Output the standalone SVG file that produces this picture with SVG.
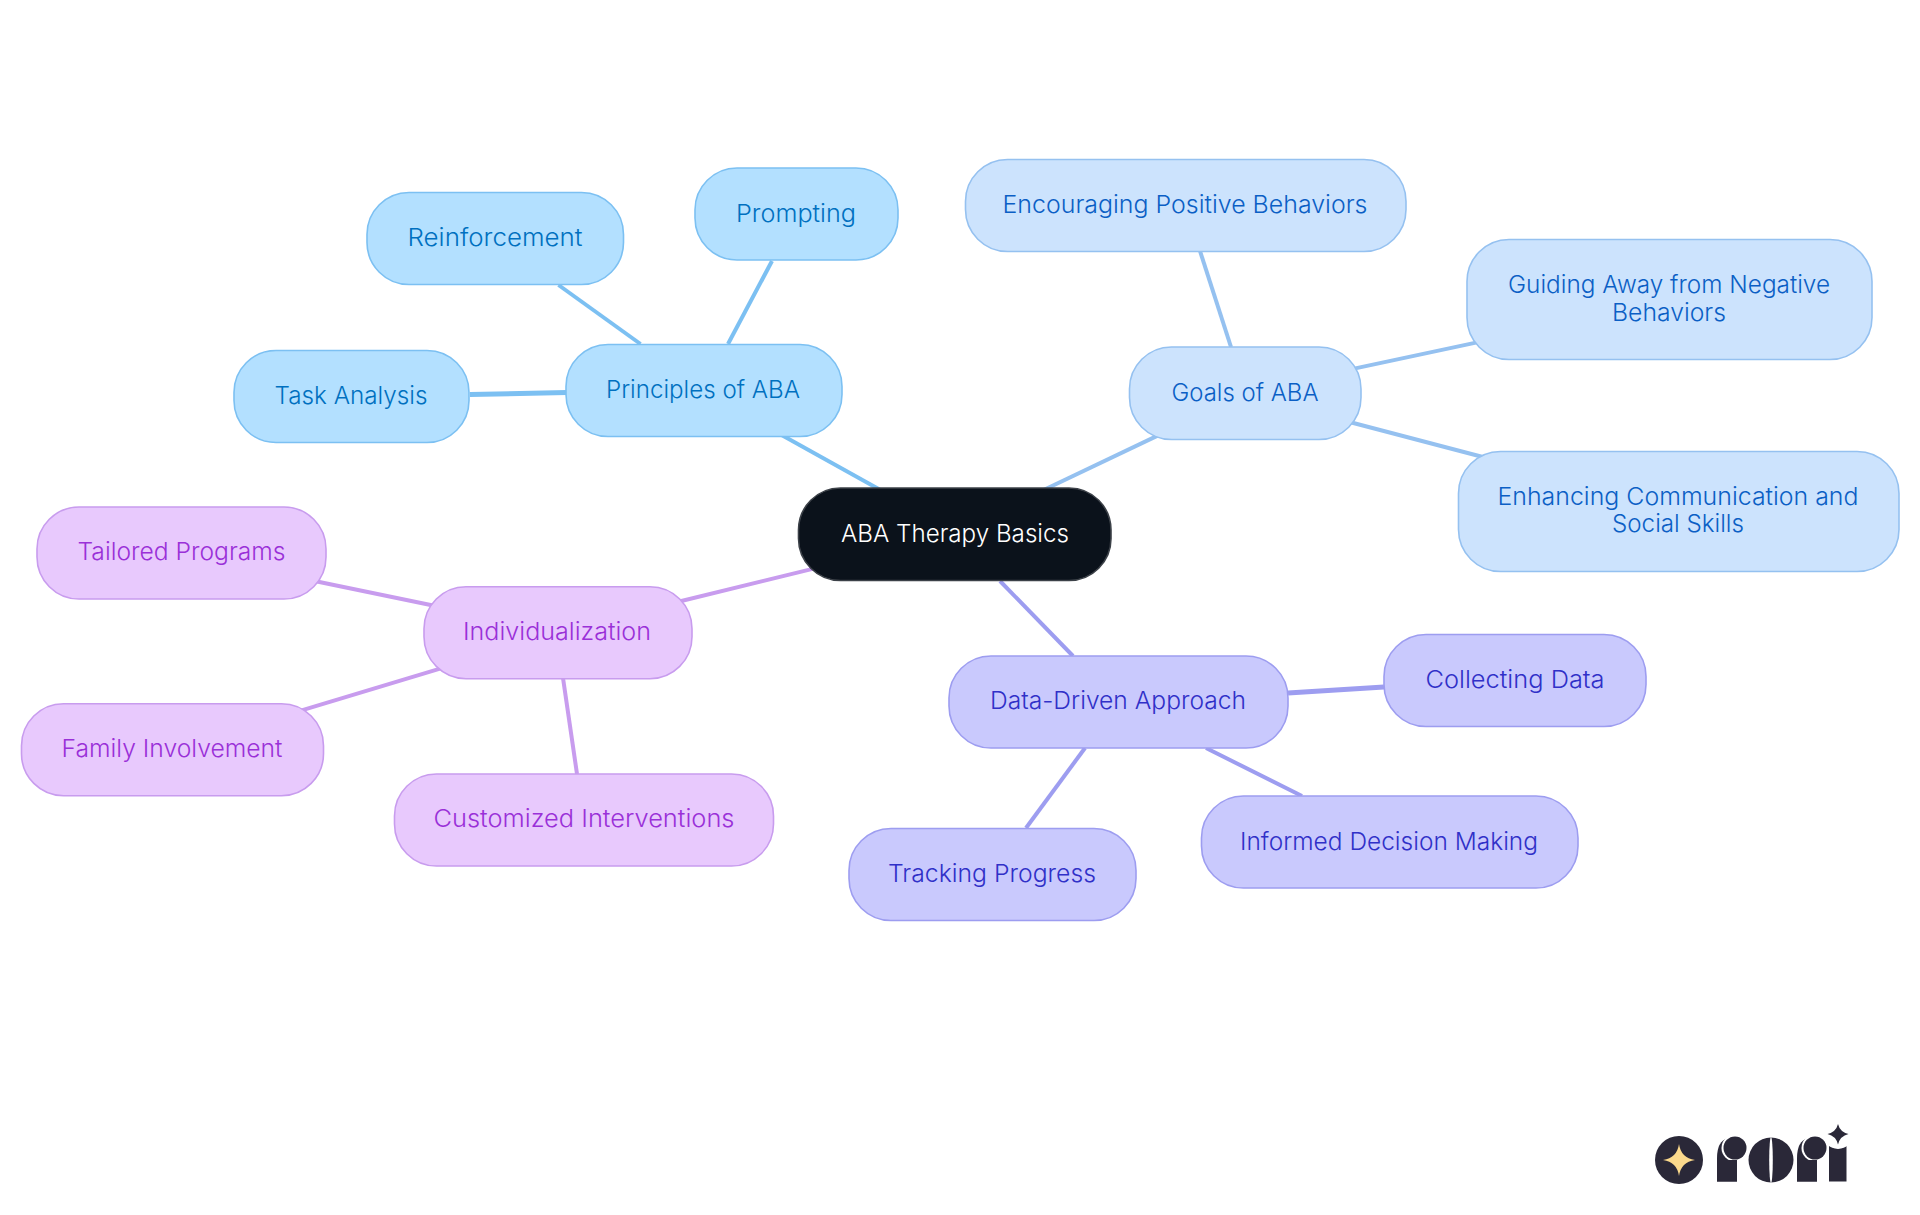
<svg xmlns="http://www.w3.org/2000/svg" width="1920" height="1215" viewBox="0 0 1920 1215">
<style>
text{font-family:"Inter","Noto Sans","Liberation Sans",sans-serif;font-size:24px;font-weight:350;text-anchor:middle;dominant-baseline:central}
.n{stroke-width:1.6}
.c line{stroke-width:4;stroke-linecap:butt;fill:none}
.b rect{fill:#b3e0ff;stroke:#7cc0f2}.b text{fill:#0070c0}.cb{stroke:#7cc0f2}
.g rect{fill:#cce3fd;stroke:#95c1f0}.g text{fill:#0b5fc5}.cg{stroke:#95c1f0}
.d rect{fill:#c9c9fd;stroke:#9d9df0}.d text{fill:#3030c8}.cd{stroke:#9d9df0}
.p rect{fill:#e8c9fd;stroke:#c89cee}.p text{fill:#9a30d8}.cp{stroke:#c89cee}
.dk{fill:#2a2838}
</style>
<rect width="1920" height="1215" fill="#fff"/>
<g id="connectors" class="c">
<line class="cb" x1="769" y1="428" x2="893" y2="497"/>
<line class="cb" x1="558.500" y1="285" x2="640.500" y2="344"/>
<line class="cb" x1="772" y1="261" x2="728" y2="344"/>
<line class="cb" x1="470" y1="394.500" x2="567" y2="392.500" style="stroke-width:5"/>
<line class="cg" x1="1030" y1="496.500" x2="1175" y2="427.400"/>
<line class="cg" x1="1200" y1="251" x2="1231" y2="347"/>
<line class="cg" x1="1340" y1="371.600" x2="1490" y2="339.600"/>
<line class="cg" x1="1340" y1="419.500" x2="1500" y2="461.500"/>
<line class="cd" x1="1000" y1="581" x2="1073" y2="656"/>
<line class="cd" x1="1288" y1="693" x2="1384" y2="687" style="stroke-width:5"/>
<line class="cd" x1="1206" y1="748" x2="1302" y2="796"/>
<line class="cd" x1="1085" y1="748" x2="1026" y2="828"/>
<line class="cp" x1="830" y1="564.600" x2="665" y2="605"/>
<line class="cp" x1="300" y1="578" x2="450" y2="609"/>
<line class="cp" x1="285" y1="715.400" x2="460" y2="662.700"/>
<line class="cp" x1="563" y1="678" x2="577" y2="774"/>
</g>
<g id="root"><rect x="798.500" y="488" width="312.500" height="92.500" rx="42" fill="#0b121b" stroke="#3c4148" stroke-width="1.600"/><text x="955" y="533" fill="#fff" textLength="228" lengthAdjust="spacingAndGlyphs">ABA Therapy Basics</text></g>
<g id="principles" class="b"><rect class="n" x="566" y="344.500" width="276" height="92" rx="42"/><text x="703" y="389" textLength="194" lengthAdjust="spacingAndGlyphs">Principles of ABA</text></g>
<g id="reinforcement" class="b"><rect class="n" x="367" y="192.500" width="256.500" height="92" rx="42"/><text x="495" y="237" textLength="175" lengthAdjust="spacingAndGlyphs">Reinforcement</text></g>
<g id="prompting" class="b"><rect class="n" x="695" y="168" width="203" height="92" rx="42"/><text x="796" y="213" textLength="120" lengthAdjust="spacingAndGlyphs">Prompting</text></g>
<g id="task" class="b"><rect class="n" x="234" y="350.500" width="235" height="92" rx="42"/><text x="351" y="395" textLength="153" lengthAdjust="spacingAndGlyphs">Task Analysis</text></g>
<g id="goals" class="g"><rect class="n" x="1129.500" y="347" width="231.500" height="92.500" rx="42"/><text x="1245" y="392" textLength="147" lengthAdjust="spacingAndGlyphs">Goals of ABA</text></g>
<g id="encouraging" class="g"><rect class="n" x="965.500" y="159.500" width="440.500" height="92" rx="42"/><text x="1185" y="204" textLength="365" lengthAdjust="spacingAndGlyphs">Encouraging Positive Behaviors</text></g>
<g id="guiding" class="g"><rect class="n" x="1467" y="239.500" width="405" height="120" rx="42"/><text x="1669" y="284" textLength="322" lengthAdjust="spacingAndGlyphs">Guiding Away from Negative</text><text x="1669" y="312" textLength="114" lengthAdjust="spacingAndGlyphs">Behaviors</text></g>
<g id="enhancing" class="g"><rect class="n" x="1458.500" y="451.500" width="440.500" height="120" rx="42"/><text x="1678" y="496" textLength="361" lengthAdjust="spacingAndGlyphs">Enhancing Communication and</text><text x="1678" y="523" textLength="132" lengthAdjust="spacingAndGlyphs">Social Skills</text></g>
<g id="data" class="d"><rect class="n" x="949" y="656" width="339" height="92" rx="42"/><text x="1118" y="700" textLength="256" lengthAdjust="spacingAndGlyphs">Data-Driven Approach</text></g>
<g id="collecting" class="d"><rect class="n" x="1384" y="634.500" width="262" height="92" rx="42"/><text x="1515" y="679" textLength="179" lengthAdjust="spacingAndGlyphs">Collecting Data</text></g>
<g id="informed" class="d"><rect class="n" x="1201.500" y="796" width="376.500" height="92" rx="42"/><text x="1389" y="841" textLength="298" lengthAdjust="spacingAndGlyphs">Informed Decision Making</text></g>
<g id="tracking" class="d"><rect class="n" x="849" y="828.500" width="287" height="92" rx="42"/><text x="992" y="873" textLength="208" lengthAdjust="spacingAndGlyphs">Tracking Progress</text></g>
<g id="individualization" class="p"><rect class="n" x="424" y="586.700" width="268" height="92" rx="42"/><text x="557" y="631" textLength="188" lengthAdjust="spacingAndGlyphs">Individualization</text></g>
<g id="tailored" class="p"><rect class="n" x="37" y="507" width="289" height="92" rx="42"/><text x="181.500" y="551" textLength="208" lengthAdjust="spacingAndGlyphs">Tailored Programs</text></g>
<g id="family" class="p"><rect class="n" x="21.500" y="703.700" width="302" height="92" rx="42"/><text x="172" y="748" textLength="221" lengthAdjust="spacingAndGlyphs">Family Involvement</text></g>
<g id="customized" class="p"><rect class="n" x="394.500" y="774" width="379" height="92" rx="42"/><text x="584" y="818" textLength="301" lengthAdjust="spacingAndGlyphs">Customized Interventions</text></g>
<g id="logo">
<circle class="dk" cx="1679" cy="1160" r="24"/>
<path fill="#fbd98c" d="M1679 1144Q1681 1158 1695 1160Q1681 1162 1679 1176Q1677 1162 1663 1160Q1677 1158 1679 1144Z"/>
<path class="dk" d="M1717 1181.500V1158Q1717 1141 1728 1138L1737 1150V1181.500Z"/>
<circle cx="1735" cy="1148" r="13.500" fill="#fff"/><circle class="dk" cx="1735" cy="1148" r="11.500"/>
<rect class="dk" x="1717" y="1160" width="20" height="21.500"/>
<circle class="dk" cx="1771" cy="1160" r="22.500"/><ellipse cx="1771" cy="1160" rx="1.800" ry="23" fill="#fff"/>
<path class="dk" d="M1797 1181.500V1158Q1797 1141 1808 1138L1817 1150V1181.500Z"/>
<circle cx="1815" cy="1148" r="13.500" fill="#fff"/><circle class="dk" cx="1815" cy="1148" r="11.500"/>
<rect class="dk" x="1797" y="1160" width="20" height="21.500"/>
<rect class="dk" x="1829" y="1146" width="17.500" height="35.500"/>
<circle cx="1838" cy="1134" r="15" fill="#fff"/>
<path class="dk" d="M1838 1124Q1840 1132 1848.500 1134Q1840 1136 1838 1144.500Q1836 1136 1827.500 1134Q1836 1132 1838 1124Z"/>
</g>
</svg>
